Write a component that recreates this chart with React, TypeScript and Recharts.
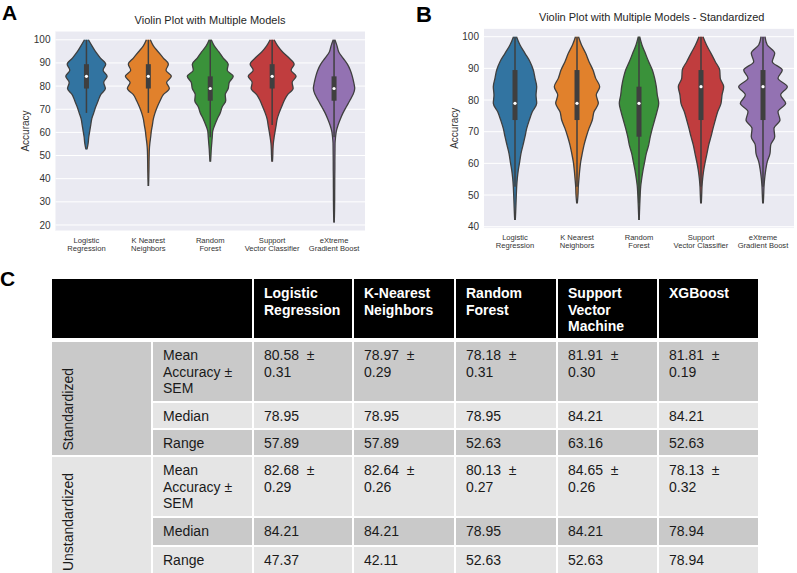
import React from 'react';
import { ComposedChart, Area, Line, XAxis, YAxis, CartesianGrid } from 'recharts';

const MODEL_NAMES = [
  ['Logistic', 'Regression'],
  ['K Nearest', 'Neighbors'],
  ['Random', 'Forest'],
  ['Support', 'Vector Classifier'],
  ['eXtreme', 'Gradient Boost'],
];
const VIOLIN_COLORS = ['#3274a1', '#e1812c', '#3a923a', '#c03d3e', '#9372b2'];

// accuracy levels (top -> bottom) where the violin half-widths were read
const LEVELS_A = [100, 97.37, 94.74, 92.11, 89.47, 86.84, 84.21, 81.58, 78.95, 76.32, 73.68, 71.05, 68.42, 65.79, 63.16, 60.53, 57.89, 55.26, 52.63, 50.0, 47.37, 44.74, 42.11, 39.47, 36.84, 34.21, 31.58, 28.95, 26.32, 23.68, 21.05];
const LEVELS_B = [100, 97.37, 94.74, 92.11, 89.47, 86.84, 84.21, 81.58, 78.95, 76.32, 73.68, 71.05, 68.42, 65.79, 63.16, 60.53, 57.89, 55.26, 52.63, 50.0, 47.37, 44.74, 42.11];

// violin half-widths, in category units (panel A, unstandardized)
const LR_A = [0.032, 0.089, 0.15, 0.226, 0.311, 0.269, 0.334, 0.279, 0.306, 0.231, 0.189, 0.15, 0.118, 0.085, 0.069, 0.053, 0.037, 0.027, 0.008];
const KNN_A = [0.032, 0.081, 0.161, 0.242, 0.323, 0.285, 0.371, 0.295, 0.339, 0.242, 0.189, 0.145, 0.108, 0.081, 0.065, 0.048, 0.037, 0.024, 0.016, 0.013, 0.011, 0.01, 0.008, 0.006, 0.003];
const RF_A = [0.016, 0.065, 0.14, 0.21, 0.29, 0.274, 0.371, 0.306, 0.29, 0.242, 0.25, 0.194, 0.161, 0.113, 0.073, 0.04, 0.032, 0.024, 0.016, 0.011, 0.005];
const SVC_A = [0.032, 0.089, 0.169, 0.274, 0.355, 0.306, 0.387, 0.323, 0.339, 0.25, 0.194, 0.153, 0.113, 0.081, 0.065, 0.048, 0.032, 0.019, 0.013, 0.01, 0.005];
const XGB_A = [0.013, 0.048, 0.076, 0.145, 0.215, 0.263, 0.295, 0.318, 0.334, 0.306, 0.253, 0.198, 0.145, 0.102, 0.065, 0.037, 0.024, 0.016, 0.015, 0.014, 0.013, 0.013, 0.012, 0.011, 0.011, 0.01, 0.01, 0.009, 0.008, 0.006, 0.003];

// panel B, standardized
const LR_B = [0.024, 0.081, 0.161, 0.242, 0.295, 0.323, 0.35, 0.339, 0.35, 0.279, 0.231, 0.189, 0.161, 0.129, 0.097, 0.076, 0.053, 0.037, 0.027, 0.021, 0.016, 0.011, 0.005];
const KNN_B = [0.024, 0.073, 0.14, 0.194, 0.258, 0.302, 0.366, 0.311, 0.344, 0.274, 0.247, 0.194, 0.15, 0.113, 0.085, 0.06, 0.044, 0.032, 0.021, 0.016, 0.005];
const RF_B = [0.011, 0.048, 0.102, 0.156, 0.215, 0.253, 0.279, 0.295, 0.318, 0.29, 0.253, 0.215, 0.182, 0.156, 0.118, 0.092, 0.065, 0.044, 0.027, 0.019, 0.013, 0.008, 0.003];
const SVC_B = [0.032, 0.089, 0.161, 0.231, 0.302, 0.311, 0.366, 0.339, 0.323, 0.269, 0.231, 0.194, 0.161, 0.124, 0.097, 0.069, 0.044, 0.027, 0.016, 0.011, 0.005];
const XGB_B = [0.032, 0.069, 0.189, 0.15, 0.311, 0.242, 0.392, 0.285, 0.366, 0.242, 0.274, 0.177, 0.189, 0.124, 0.113, 0.069, 0.044, 0.027, 0.016, 0.011, 0.005];

// inner box stats
const Q1_A = [78.95, 78.95, 73.68, 78.95, 73.68];
const Q3_A = [89.47, 89.47, 84.21, 89.47, 84.21];
const MED_A = [84.21, 84.21, 78.95, 84.21, 78.95];
const WLO_A = [68.42, 68.42, 57.89, 63.16, 57.89];
const WHI_A = [100, 100, 100, 100, 100];

const Q1_B = [73.68, 73.68, 68.42, 73.68, 73.68];
const Q3_B = [89.47, 89.47, 84.21, 89.47, 89.47];
const MED_B = [78.95, 78.95, 78.95, 84.21, 84.21];
const WLO_B = [52.63, 52.63, 47.37, 52.63, 52.63];
const WHI_B = [100, 100, 100, 100, 100];

const Y_TICKS_A = [20, 30, 40, 50, 60, 70, 80, 90, 100];
const Y_TICKS_B = [40, 50, 60, 70, 80, 90, 100];

// table
const TABLE_MODELS = ['Logistic Regression', 'K-Nearest Neighbors', 'Random Forest', 'Support Vector Machine', 'XGBoost'];
const STD_MEAN = ['80.58', '78.97', '78.18', '81.91', '81.81'];
const STD_SEM = ['0.31', '0.29', '0.31', '0.30', '0.19'];
const STD_MEDIAN = ['78.95', '78.95', '78.95', '84.21', '84.21'];
const STD_RANGE = ['57.89', '57.89', '52.63', '63.16', '52.63'];
const UNSTD_MEAN = ['82.68', '82.64', '80.13', '84.65', '78.13'];
const UNSTD_SEM = ['0.29', '0.26', '0.27', '0.26', '0.32'];
const UNSTD_MEDIAN = ['84.21', '84.21', '78.95', '84.21', '78.94'];
const UNSTD_RANGE = ['47.37', '42.11', '52.63', '52.63', '78.94'];

const DARK = '#c9c9c9';
const LIGHT = '#e5e5e5';
const OUTLINE = '#3f3f3f';
const near = (a: number, b: number) => Math.abs(a - b) < 0.01;

function buildRows(levels: number[], widths: number[][], q1: number[], q3: number[], med: number[], lo: number[], hi: number[]) {
  return levels
    .map((acc, li) => {
      const row: Record<string, any> = { acc };
      widths.forEach((w, i) => {
        const hw = w[li];
        row['v' + i] = hw == null ? null : [i - hw, i + hw];
        row['l' + i] = hw == null ? null : i - hw;
        row['r' + i] = hw == null ? null : i + hw;
        row['b' + i] = acc >= q1[i] - 0.01 && acc <= q3[i] + 0.01 ? i : null;
        row['w' + i] = acc >= lo[i] - 0.01 && acc <= hi[i] + 0.01 ? i : null;
        row['m' + i] = near(acc, med[i]) ? i : null;
      });
      return row;
    })
    .reverse();
}

const NameTick = ({ x, y, payload }: any) => {
  const lines = MODEL_NAMES[payload.value] ?? [];
  return (
    <text x={x} y={y} textAnchor="middle" fontSize={7.6} fill="#333">
      {lines.map((l, i) => (
        <tspan key={i} x={x} dy={i === 0 ? 0 : 7.8}>{l}</tspan>
      ))}
    </text>
  );
};

interface PanelProps {
  levels: number[];
  widths: number[][];
  q1: number[];
  q3: number[];
  med: number[];
  lo: number[];
  hi: number[];
  domain: [number, number];
  ticks: number[];
  width: number;
  height: number;
  top: number;
  right: number;
  yWidth: number;
  labelOffset: number;
}

function ViolinPanel(p: PanelProps) {
  const rows = buildRows(p.levels, p.widths, p.q1, p.q3, p.med, p.lo, p.hi);
  const idx = [0, 1, 2, 3, 4];
  return (
    <ComposedChart layout="vertical" width={p.width} height={p.height} data={rows} margin={{ top: p.top, right: p.right, bottom: 0, left: 0 }}>
      <CartesianGrid vertical={false} stroke="#ffffff" strokeWidth={1} fill="#eaeaf2" />
      <XAxis
        type="number"
        domain={[-0.5, 4.5]}
        ticks={idx}
        interval={0}
        axisLine={false}
        tickLine={false}
        tickSize={0}
        tickMargin={12}
        height={25}
        tick={(props: any) => <NameTick {...props} />}
      />
      <YAxis
        type="number"
        dataKey="acc"
        reversed
        domain={p.domain}
        ticks={p.ticks}
        interval={0}
        axisLine={false}
        tickLine={false}
        tickSize={0}
        tickMargin={5}
        width={p.yWidth}
        tick={{ fontSize: 10, fill: '#333' }}
        label={{ value: 'Accuracy', angle: -90, position: 'insideLeft', offset: p.labelOffset, fontSize: 10, fill: '#333', style: { textAnchor: 'middle' } }}
      />
      {idx.map((i) => (
        <Area key={'v' + i} dataKey={'v' + i} type="monotone" fill={VIOLIN_COLORS[i]} fillOpacity={1} stroke="none" dot={false} activeDot={false} isAnimationActive={false} />
      ))}
      {idx.map((i) => (
        <Line key={'l' + i} dataKey={'l' + i} type="monotone" stroke={OUTLINE} strokeWidth={1.3} dot={false} activeDot={false} isAnimationActive={false} />
      ))}
      {idx.map((i) => (
        <Line key={'r' + i} dataKey={'r' + i} type="monotone" stroke={OUTLINE} strokeWidth={1.3} dot={false} activeDot={false} isAnimationActive={false} />
      ))}
      {idx.map((i) => (
        <Line key={'w' + i} dataKey={'w' + i} type="linear" stroke={OUTLINE} strokeWidth={1.5} dot={false} activeDot={false} isAnimationActive={false} />
      ))}
      {idx.map((i) => (
        <Line key={'b' + i} dataKey={'b' + i} type="linear" stroke={OUTLINE} strokeWidth={5} dot={false} activeDot={false} isAnimationActive={false} />
      ))}
      {idx.map((i) => (
        <Line key={'m' + i} dataKey={'m' + i} stroke="none" dot={{ r: 1.6, fill: '#ffffff', stroke: 'none' }} activeDot={false} isAnimationActive={false} />
      ))}
    </ComposedChart>
  );
}

const cellText: React.CSSProperties = { padding: '5px 8px 0 10px', fontSize: 14, lineHeight: '16.5px', color: '#1a1a1a' };

function StatsTable() {
  const bodyRows = [
    { label: 'Mean Accuracy ± SEM', mean: STD_MEAN, sem: STD_SEM, bg: DARK },
    { label: 'Median', vals: STD_MEDIAN, bg: LIGHT },
    { label: 'Range', vals: STD_RANGE, bg: DARK },
    { label: 'Mean Accuracy ± SEM', mean: UNSTD_MEAN, sem: UNSTD_SEM, bg: LIGHT },
    { label: 'Median', vals: UNSTD_MEDIAN, bg: DARK },
    { label: 'Range', vals: UNSTD_RANGE, bg: LIGHT },
  ];
  const groupLabel = (text: string, row: string, bg: string) => (
    <div style={{ gridColumn: 1, gridRow: row, background: bg, position: 'relative' }}>
      <span style={{ position: 'absolute', left: 8, bottom: 4, writingMode: 'vertical-rl', transform: 'rotate(180deg)', fontSize: 14, lineHeight: '16.5px', color: '#1a1a1a', whiteSpace: 'nowrap' }}>{text}</span>
    </div>
  );
  return (
    <div
      style={{
        position: 'absolute',
        left: 52,
        top: 279,
        display: 'grid',
        gridTemplateColumns: '99px 99px 98px 100px 100px 99px 99px',
        gridTemplateRows: '61px 59px 25px 25px 59px 27px 28px',
        columnGap: 2,
        rowGap: 2,
      }}
    >
      <div style={{ gridColumn: '1 / 3', gridRow: 1, background: '#000', marginBottom: 2 }} />
      {TABLE_MODELS.map((m, i) => (
        <div key={m} style={{ gridColumn: 3 + i, gridRow: 1, background: '#000', marginBottom: 2, ...cellText, paddingTop: 6, color: '#fff', fontWeight: 'bold' }}>{m}</div>
      ))}
      {groupLabel('Standardized', '2 / 5', DARK)}
      {groupLabel('Unstandardized', '5 / 8', LIGHT)}
      {bodyRows.map((r, ri) => (
        <React.Fragment key={ri}>
          <div style={{ gridColumn: 2, gridRow: ri + 2, background: r.bg, ...cellText }}>{r.label}</div>
          {[0, 1, 2, 3, 4].map((ci) => (
            <div key={ci} style={{ gridColumn: 3 + ci, gridRow: ri + 2, background: r.bg, ...cellText }}>
              {r.mean ? (
                <>
                  {r.mean[ci]}{'\u00a0 ±'}
                  <br />
                  {r.sem![ci]}
                </>
              ) : (
                r.vals![ci]
              )}
            </div>
          ))}
        </React.Fragment>
      ))}
    </div>
  );
}

const panelLetter: React.CSSProperties = { position: 'absolute', fontSize: 21, lineHeight: '21px', fontWeight: 'bold', color: '#000' };
const titleStyle: React.CSSProperties = { position: 'absolute', fontSize: 11, lineHeight: '11px', color: '#262626', textAlign: 'center', whiteSpace: 'nowrap' };

export default function App() {
  return (
    <div style={{ position: 'absolute', left: 0, top: 0, width: 797, height: 573, background: '#fff', overflow: 'hidden', fontFamily: 'Arial, "Liberation Sans", sans-serif' }}>
      <div style={{ position: 'absolute', left: 0, top: 0 }}>
        <ViolinPanel
          levels={LEVELS_A}
          widths={[LR_A, KNN_A, RF_A, SVC_A, XGB_A]}
          q1={Q1_A}
          q3={Q3_A}
          med={MED_A}
          lo={WLO_A}
          hi={WHI_A}
          domain={[17.4, 103.8]}
          ticks={Y_TICKS_A}
          width={375}
          height={256}
          top={31}
          right={10}
          yWidth={55.5}
          labelOffset={25.5}
        />
      </div>
      <div style={{ position: 'absolute', left: 420, top: 0 }}>
        <ViolinPanel
          levels={LEVELS_B}
          widths={[LR_B, KNN_B, RF_B, SVC_B, XGB_B]}
          q1={Q1_B}
          q3={Q3_B}
          med={MED_B}
          lo={WLO_B}
          hi={WHI_B}
          domain={[39.5, 102.65]}
          ticks={Y_TICKS_B}
          width={377}
          height={253.3}
          top={28.3}
          right={3}
          yWidth={64}
          labelOffset={34}
        />
      </div>
      <div style={{ ...titleStyle, left: 110, width: 200, top: 14.5 }}>Violin Plot with Multiple Models</div>
      <div style={{ ...titleStyle, left: 539, width: 200, top: 12 }}>Violin Plot with Multiple Models - Standardized</div>
      <div style={{ ...panelLetter, left: 2, top: 2.3 }}>A</div>
      <div style={{ ...panelLetter, left: 416, top: 4, fontSize: 22, lineHeight: '22px' }}>B</div>
      <div style={{ ...panelLetter, left: 0, top: 268 }}>C</div>
      <StatsTable />
    </div>
  );
}
